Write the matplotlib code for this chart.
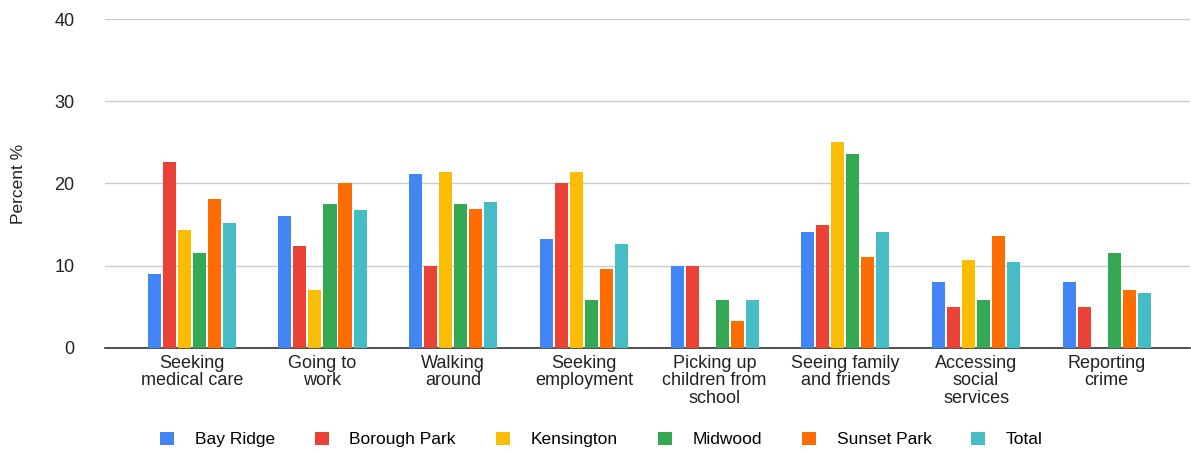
import numpy as np
import matplotlib.pyplot as plt

plt.rcParams['font.family'] = ['Liberation Sans', 'DejaVu Sans']

categories = ['Seeking\nmedical care', 'Going to\nwork', 'Walking\naround',
              'Seeking\nemployment', 'Picking up\nchildren from\nschool',
              'Seeing family\nand friends', 'Accessing\nsocial\nservices',
              'Reporting\ncrime']
series_names = ['Bay Ridge', 'Borough Park', 'Kensington', 'Midwood', 'Sunset Park', 'Total']
bay_ridge = [9.0, 16.1, 21.2, 13.3, 10.0, 14.1, 8.0, 8.0]
borough_park = [22.6, 12.4, 10.0, 20.0, 10.0, 14.9, 5.0, 5.0]
kensington = [14.4, 7.1, 21.4, 21.4, 0, 25.1, 10.7, 0]
midwood = [11.6, 17.5, 17.5, 5.8, 5.8, 23.6, 5.8, 11.6]
sunset_park = [18.1, 20.1, 16.9, 9.6, 3.3, 11.1, 13.6, 7.1]
total = [15.2, 16.8, 17.7, 12.6, 5.8, 14.1, 10.4, 6.7]
yticks = [0, 10, 20, 30, 40]

colors = ['#4285F4', '#EA4335', '#FBBC04', '#34A853', '#FF6D01', '#46BDC6']
data = [bay_ridge, borough_park, kensington, midwood, sunset_park, total]

fig = plt.figure(figsize=(11.91, 4.53), dpi=100)
ax = fig.add_axes([0.088, 0.232, 0.911, 0.726])

x = np.arange(len(categories))
slot = 0.115
for i, (vals, c, name) in enumerate(zip(data, colors, series_names)):
    ax.bar(x + (i - 2.5) * slot + 0.015, vals, width=0.1, color=c, label=name, zorder=3)

ax.set_xlim(-0.65, 7.65)
ax.set_ylim(0, 40)
ax.set_yticks(yticks)
ax.yaxis.grid(True, color='#cccccc', linewidth=1)
ax.set_axisbelow(True)
for s in ['top', 'right', 'left']:
    ax.spines[s].set_visible(False)
ax.spines['bottom'].set_color('#333333')
ax.spines['bottom'].set_linewidth(1.2)
ax.tick_params(axis='y', length=0, labelsize=13, colors='#222222', pad=22)
ax.tick_params(axis='x', length=0, labelsize=13, colors='#222222', pad=5)
ax.set_xticks(x + 0.015)
ax.set_xticklabels(categories, linespacing=1.05)
ax.set_ylabel('Percent %', fontsize=12.5, color='#222222', labelpad=20)

fig.legend(loc='center', bbox_to_anchor=(0.505, 0.03), ncol=6, frameon=False,
           fontsize=12.5, handlelength=0.8, handleheight=0.8, columnspacing=2.3,
           handletextpad=1.2)

plt.savefig('out.png')
